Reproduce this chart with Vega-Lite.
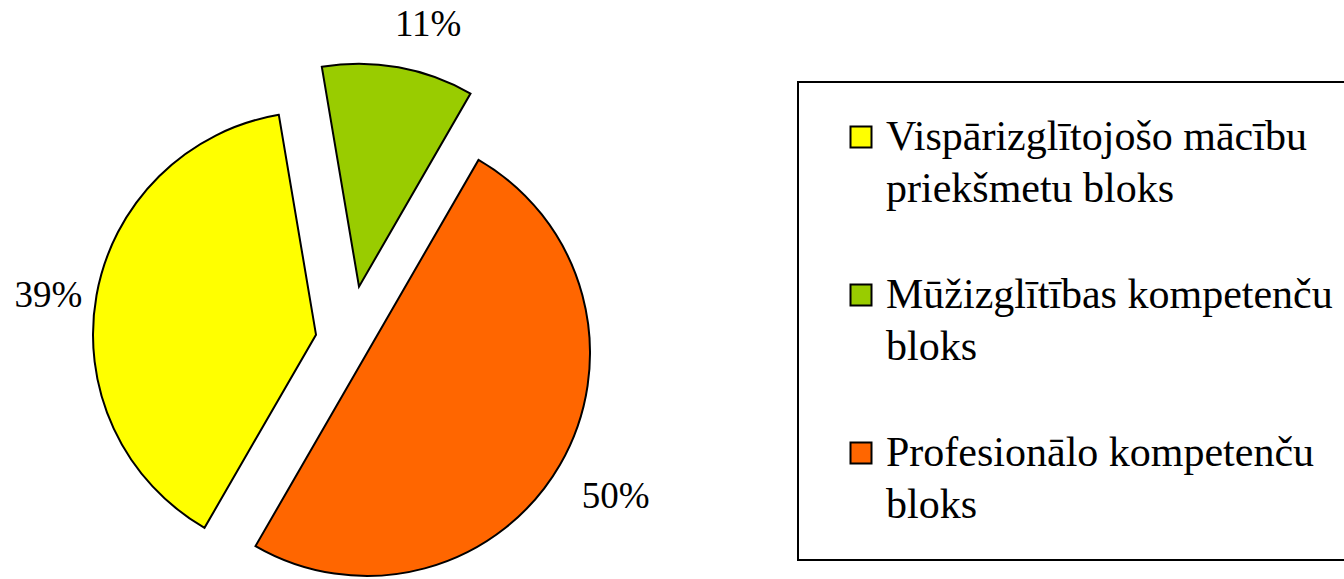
{
  "$schema": "https://vega.github.io/schema/vega-lite/v6.json",
  "width": 688,
  "height": 478,
  "autosize": {"type": "none"},
  "padding": {"left": 0, "top": 101, "right": 656, "bottom": 0},
  "background": "white",
  "config": {"view": {"stroke": null}, "font": "Times New Roman, Liberation Serif, serif"},
  "data": {"values": [
    {"bloks": "Vispārizglītojošo mācību priekšmetu bloks", "share": 39, "order": 1, "label": "39%"},
    {"bloks": "Mūžizglītības kompetenču bloks", "share": 11, "order": 2, "label": "11%"},
    {"bloks": "Profesionālo kompetenču bloks", "share": 50, "order": 3, "label": "50%"}
  ]},
  "encoding": {
    "theta": {"field": "share", "type": "quantitative", "stack": true, "scale": {"range": [3.66519, 9.94838]}},
    "order": {"field": "order", "type": "quantitative"},
    "color": {
      "field": "bloks", "type": "nominal",
      "scale": {
        "domain": ["Vispārizglītojošo mācību priekšmetu bloks", "Mūžizglītības kompetenču bloks", "Profesionālo kompetenču bloks"],
        "range": ["#FFFF00", "#99CC00", "#FF6600"]
      },
      "legend": {
        "title": " ", "titleOrient": "right", "titlePadding": 40, "titleFontSize": 2,
        "orient": "none", "legendX": 798, "legendY": -19,
        "symbolType": "square", "symbolSize": 441, "symbolStrokeColor": "black", "symbolStrokeWidth": 2, "symbolOpacity": 1,
        "labelFont": "Times New Roman, Liberation Serif, serif", "labelFontSize": 42, "labelColor": "black", "labelLimit": 0,
        "labelExpr": "[join(slice(split(datum.label, ' '), 0, 2), ' '), join(slice(split(datum.label, ' '), 2), ' ')]",
        "labelOffset": 4, "symbolOffset": 8,
        "padding": 34, "rowPadding": 64,
        "strokeColor": "black",
        "encode": {
          "legend": {"update": {"strokeWidth": {"value": 2}}},
          "labels": {"update": {"lineHeight": {"value": 52}}}
        }
      }
    }
  },
  "layer": [
    {
      "mark": {"type": "arc", "outerRadius": 223, "stroke": "black", "strokeWidth": 2, "xOffset": -28, "yOffset": -5.3},
      "encoding": {
        "fillOpacity": {"condition": {"test": "datum.order === 1", "value": 1}, "value": 0},
        "strokeOpacity": {"condition": {"test": "datum.order === 1", "value": 1}, "value": 0}
      }
    },
    {
      "mark": {"type": "arc", "outerRadius": 223, "stroke": "black", "strokeWidth": 2, "xOffset": 15, "yOffset": -53.3},
      "encoding": {
        "fillOpacity": {"condition": {"test": "datum.order === 2", "value": 1}, "value": 0},
        "strokeOpacity": {"condition": {"test": "datum.order === 2", "value": 1}, "value": 0}
      }
    },
    {
      "mark": {"type": "arc", "outerRadius": 223, "stroke": "black", "strokeWidth": 2, "xOffset": 23, "yOffset": 13},
      "encoding": {
        "fillOpacity": {"condition": {"test": "datum.order === 3", "value": 1}, "value": 0},
        "strokeOpacity": {"condition": {"test": "datum.order === 3", "value": 1}, "value": 0}
      }
    },
    {
      "mark": {"type": "text", "radius": 271, "fontSize": 37, "font": "Times New Roman, Liberation Serif, serif", "xOffset": -28, "yOffset": -5.3, "dx": -1, "dy": 9},
      "encoding": {
        "text": {"field": "label"},
        "color": {"value": "black"},
        "opacity": {"condition": {"test": "datum.order === 1", "value": 1}, "value": 0}
      }
    },
    {
      "mark": {"type": "text", "radius": 266, "fontSize": 37, "font": "Times New Roman, Liberation Serif, serif", "xOffset": 15, "yOffset": -53.3, "dx": 22, "dy": 0},
      "encoding": {
        "text": {"field": "label"},
        "color": {"value": "black"},
        "opacity": {"condition": {"test": "datum.order === 2", "value": 1}, "value": 0}
      }
    },
    {
      "mark": {"type": "text", "radius": 287, "fontSize": 37, "font": "Times New Roman, Liberation Serif, serif", "xOffset": 23, "yOffset": 13, "dx": 0, "dy": 0},
      "encoding": {
        "text": {"field": "label"},
        "color": {"value": "black"},
        "opacity": {"condition": {"test": "datum.order === 3", "value": 1}, "value": 0}
      }
    }
  ]
}
